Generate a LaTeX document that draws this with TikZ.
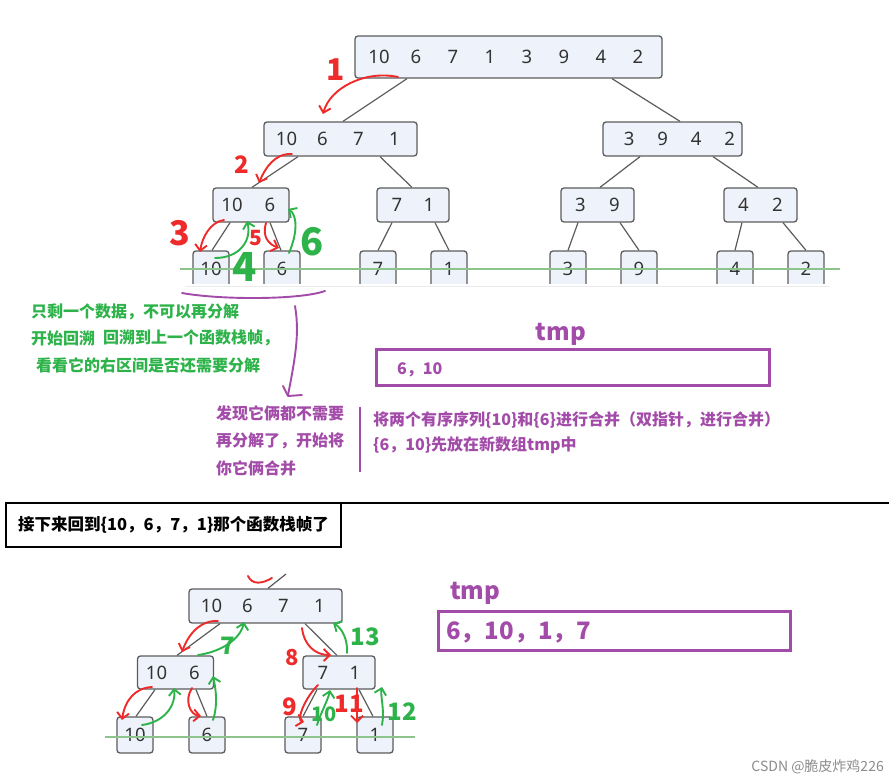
\documentclass[tikz,border=0pt]{standalone}
\usepackage{fontspec}
\setmainfont{Noto Sans}
\newfontfamily\cjk{Noto Sans CJK SC}
\usetikzlibrary{arrows.meta,calc}

\definecolor{nodefill}{HTML}{EEF2FA}
\definecolor{nodeedge}{HTML}{5C5C5C}
\definecolor{numtext}{HTML}{333333}
\definecolor{hred}{HTML}{EE2A2A}
\definecolor{hgreen}{HTML}{2DB34A}
\definecolor{hpurple}{HTML}{A24BA8}
\definecolor{guide}{HTML}{8CC48C}

% one digit group placed on a fixed pitch
\newcommand\dg[2][36]{\makebox[#1pt]{#2}}
\newcommand\fs[1]{\fontsize{#1}{#1}\selectfont}

\tikzset{
  box/.style={draw=nodeedge, fill=nodefill, line width=1.3pt, rounded corners=3pt,
    inner sep=0pt, text=numtext, font=\fs{18.5}},
  leaf/.style={box, minimum width=36pt, minimum height=36pt},
  edge/.style={draw=nodeedge, line width=1.2pt},
  pen/.style={line width=1.9pt, line cap=round, line join=round},
  redpen/.style={pen, draw=hred},
  greenpen/.style={pen, draw=hgreen},
  purplepen/.style={pen, draw=hpurple},
  tip/.style={-{Straight Barb[length=6pt,width=12pt]}},
  redlab/.style={text=hred, font=\cjk\bfseries\fs{#1}, inner sep=0pt},
  greenlab/.style={text=hgreen, font=\cjk\bfseries\fs{#1}, inner sep=0pt},
  note/.style={font=\cjk\bfseries\fs{16}, inner sep=0pt, anchor=west},
}

\begin{document}
\begin{tikzpicture}[x=1pt, y=-1pt]
\useasboundingbox (0,0) rectangle (889,783);
\fill[white] (0,0) rectangle (889,783);

% ---------- upper recursion tree ----------
\node[box, minimum width=307pt, minimum height=42pt] (root) at (508.5,57)
  {\dg[37]{10}\dg[37]{6}\dg[37]{7}\dg[37]{1}\dg[37]{3}\dg[37]{9}\dg[37]{4}\dg[37]{2}};
\node[box, minimum width=153pt, minimum height=34pt] (ll) at (340.5,139)
  {\dg{10}\dg{6}\dg{7}\dg{1}};
\node[box, minimum width=139pt, minimum height=34pt] (lr) at (672.5,139)
  {\makebox[139pt]{\hspace{14pt}\dg[33.5]{3}\dg[33.5]{9}\dg[33.5]{4}\dg[33.5]{2}}};
\node[box, minimum width=73pt, minimum height=34pt] (na) at (251,205) {\dg[38]{10}\dg[38]{6}};
\node[box, minimum width=72pt, minimum height=34pt] (nb) at (413,205) {\dg[32]{7}\dg[32]{1}};
\node[box, minimum width=73pt, minimum height=34pt] (nc) at (597.5,205) {\dg[34]{3}\dg[34]{9}};
\node[box, minimum width=73pt, minimum height=34pt] (nd) at (760.5,205) {\dg[34]{4}\dg[34]{2}};

\node[leaf] (t10) at (211,269) {10};
\node[leaf] (t6)  at (282,269) {6};
\node[leaf] (t7)  at (378,269) {7};
\node[leaf] (t1)  at (449,269) {1};
\node[leaf] (t3)  at (568,269) {3};
\node[leaf] (t9)  at (639,269) {9};
\node[leaf] (t4)  at (735,269) {4};
\node[leaf] (t2)  at (806,269) {2};
% the leaf row is cut off at its lower edge
\fill[white] (180,284.5) rectangle (840,292);
\draw[black!8, line width=1pt] (185,287) -- (830,287);

\draw[edge] ($(root.south)+(-101.5,0)$) -- ($(ll.north)+(2.5,0)$);
\draw[edge] ($(root.south)+(103.5,0)$) -- ($(lr.north)+(7.5,0)$);
\draw[edge] ($(ll.south)+(-42.5,0)$) -- ($(na.north)+(1,0)$);
\draw[edge] ($(ll.south)+(39.5,0)$) -- ($(nb.north)+(-1,0)$);
\draw[edge] ($(lr.south)+(-32.5,0)$) -- ($(nc.north)+(2.5,0)$);
\draw[edge] ($(lr.south)+(40.5,0)$) -- ($(nd.north)+(-2.5,0)$);
\draw[edge] ($(na.south)+(-21,0)$) -- ($(t10.north)+(1,0)$);
\draw[edge] ($(na.south)+(19,0)$) -- ($(t6.north)+(-1,0)$);
\draw[edge] ($(nb.south)+(-21,0)$) -- (t7.north);
\draw[edge] ($(nb.south)+(22,0)$) -- (t1.north);
\draw[edge] ($(nc.south)+(-19.5,0)$) -- (t3.north);
\draw[edge] ($(nc.south)+(22.5,0)$) -- (t9.north);
\draw[edge] ($(nd.south)+(-18.5,0)$) -- (t4.north);
\draw[edge] ($(nd.south)+(22.5,0)$) -- (t2.north);

\draw[guide, line width=1.2pt] (180,269) -- (840,269);

% hand-drawn call order
\draw[redpen, tip] (398,77) .. controls (365,70) and (330,88) .. (323,114);
\node[redlab=30] (s1) at (336,70) {1};
\draw[redpen, tip] (292,154) .. controls (275,153) and (265,168) .. (259,183);
\node[redlab=24] (s2) at (242,165) {2};
\draw[redpen, tip] (224,220) .. controls (210,222) and (202,238) .. (200,252);
\node[redlab=34] (s3) at (180,233) {3};
\draw[redpen, tip] (266,223) .. controls (262,236) and (268,244) .. (279,248);
\node[redlab=21] (s5) at (256,238) {5};
\draw[greenpen, tip] (215,258) .. controls (240,258) and (252,240) .. (247,221);
\node[greenlab=40] (s4) at (245,267) {4};
\draw[greenpen, tip] (289,253) .. controls (298,232) and (297,215) .. (288,209);
\node[greenlab=38] (s6) at (312,242) {6};

\draw[purplepen] (182,293) .. controls (220,300) and (300,300) .. (325,291);
\draw[purplepen] (295,306) .. controls (299,330) and (297,350) .. (288,395);
\draw[purplepen] (283,386) -- (288,396) -- (302,395);

% notes
\node[note, text=hgreen] (g1) at (31,312) {只剩一个数据，不可以再分解};
\node[note, text=hgreen] (g2) at (31,338) {开始回溯};
\node[note, text=hgreen] (g3) at (103,338) {回溯到上一个函数栈帧，};
\node[note, text=hgreen] (g4) at (36,365) {看看它的右区间是否还需要分解};

\node[note, text=hpurple] (p1) at (216,413) {发现它俩都不需要};
\node[note, text=hpurple] (p2) at (216,441) {再分解了，开始将};
\node[note, text=hpurple] (p3) at (216,468) {你它俩合并};
\draw[hpurple, line width=2pt] (360,407) -- (360,472);
\node[note, text=hpurple] (p4) at (373,420) {将两个有序序列\{10\}和\{6\}进行合并（双指针，进行合并）};
\node[note, text=hpurple] (p5) at (373,445) {\{6，10\}先放在新数组tmp中};

\node[text=hpurple, font=\cjk\bfseries\fs{24}, inner sep=0pt] (tmpa) at (561,334) {tmp};
\draw[hpurple, line width=3pt] (376,350) rectangle (769,386);
\node[note, text=hpurple] (tmpav) at (397,370) {6，10};

% ---------- divider ----------
\draw[black, line width=2pt] (341,503) -- (889,503);
\node[draw=black, line width=2.5pt, minimum width=335pt, minimum height=44pt, inner sep=0pt,
      font=\cjk\bfseries\fs{16.5}] (cap) at (173.5,525) {接下来回到\{10，6，7，1\}那个函数栈帧了};

% ---------- lower recursion tree ----------
\node[box, minimum width=153pt, minimum height=34pt] (broot) at (265.5,606)
  {\dg{10}\dg{6}\dg{7}\dg{1}};
\node[box, minimum width=73pt, minimum height=33pt] (ba) at (175.5,672.5) {\dg[38]{10}\dg[38]{6}};
\node[box, minimum width=72pt, minimum height=33pt] (bb) at (339,672.5) {\dg[32]{7}\dg[32]{1}};
\node[leaf] (b10) at (135,735) {10};
\node[leaf] (b6)  at (207,735) {6};
\node[leaf] (b7)  at (303,735) {7};
\node[leaf] (b1)  at (375,735) {1};

\coordinate (bup) at (286,574);
\draw[edge] ($(broot.north)+(2.5,0)$) -- (bup);
\draw[edge] ($(broot.south)+(-45.5,0)$) -- ($(ba.north)+(1.5,0)$);
\draw[edge] ($(broot.south)+(39.5,0)$) -- ($(bb.north)+(-2,0)$);
\draw[edge] ($(ba.south)+(-20.5,0)$) -- ($(b10.north)+(1,0)$);
\draw[edge] ($(ba.south)+(20.5,0)$) -- (b6.north);
\draw[edge] ($(bb.south)+(-22,0)$) -- (b7.north);
\draw[edge] ($(bb.south)+(20,0)$) -- ($(b1.north)+(-2,0)$);

\draw[guide, line width=1.2pt] (105,737) -- (415,737);

\draw[redpen] (248,576) .. controls (252,585) and (262,584) .. (272,578);
\draw[redpen, tip] (218,621) .. controls (200,620) and (188,635) .. (182,652);
\draw[greenpen, tip] (198,655) .. controls (220,652) and (240,640) .. (244,622);
\node[greenlab=24] (s7) at (228,646) {7};
\draw[redpen, tip] (152,687) .. controls (135,688) and (125,700) .. (122,720);
\draw[greenpen, tip] (142,725) .. controls (165,722) and (176,705) .. (174,688);
\draw[redpen, tip] (192,688) .. controls (184,700) and (190,715) .. (201,716);
\draw[greenpen, tip] (213,720) .. controls (218,705) and (216,690) .. (213,676);
\draw[redpen, tip] (302,628) .. controls (304,645) and (315,655) .. (331,655);
\node[redlab=22] (s8) at (292,658) {8};
\draw[greenpen, tip] (347,653) .. controls (348,640) and (342,628) .. (333,623);
\node[greenlab=24] (s13) at (365,637) {13};
\draw[redpen, tip] (318,685) .. controls (305,698) and (296,720) .. (304,722);
\node[redlab=24] (s9) at (290,707) {9};
\draw[greenpen, tip] (317,725) .. controls (322,710) and (328,700) .. (330,690);
\node[greenlab=20] (s10) at (324,714) {10};
\draw[redpen, tip] (357,688) -- (357,723);
\node[redlab=24] (s11) at (349,704) {11};
\draw[greenpen, tip] (382,725) .. controls (385,710) and (380,695) .. (382,687);
\node[greenlab=24] (s12) at (402,712) {12};

\node[text=hpurple, font=\cjk\bfseries\fs{24}, inner sep=0pt, anchor=west] (tmpb) at (450,593) {tmp};
\draw[hpurple, line width=3pt] (438,611) rectangle (790,650);
\node[note, text=hpurple, font=\cjk\bfseries\fs{24}] (tmpbv) at (446,632) {6，10，1，7};

\node[text=black!45, font=\cjk\fs{14}, inner sep=0pt, anchor=east] (mark) at (884,767) {CSDN @脆皮炸鸡226};
\end{tikzpicture}
\end{document}
